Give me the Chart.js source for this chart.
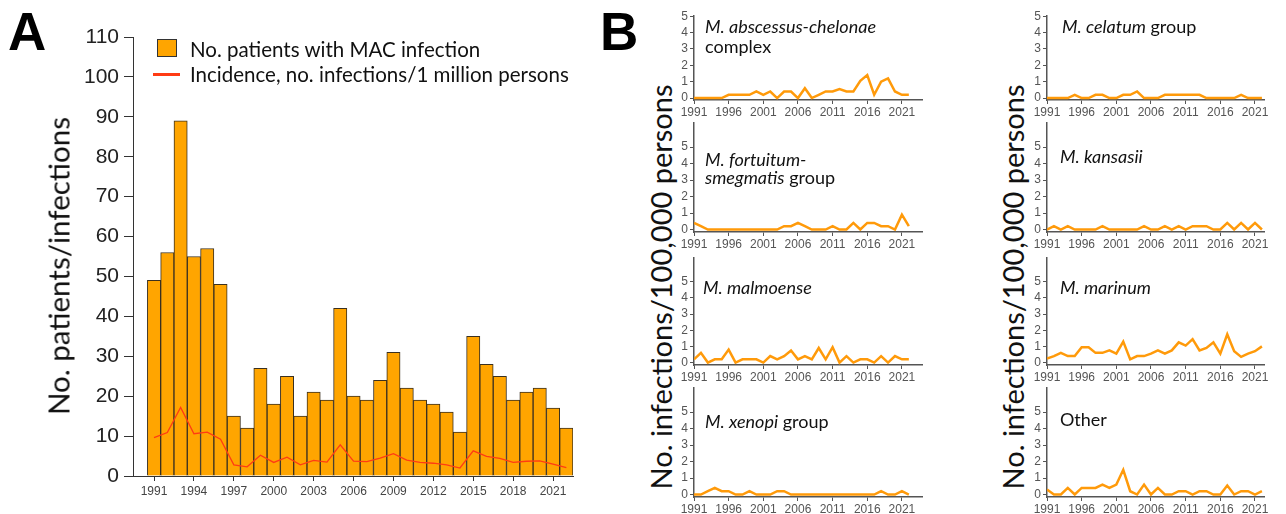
<!DOCTYPE html>
<html>
<head>
<meta charset="utf-8">
<script src="https://cdn.jsdelivr.net/npm/chart.js@4.4.1/dist/chart.umd.min.js"></script>
<style>
  body { margin: 0; background: #fff; width: 1286px; height: 514px; overflow: hidden; position: relative; font-family: Lato, sans-serif; color: #111; }
  canvas { position: absolute; }
  .panel { position: absolute; font: bold 53px "Liberation Sans", Arial, sans-serif; line-height: 53px; color: #000; }
  .lbl { position: absolute; font-size: 18px; line-height: 20px; white-space: nowrap; }
  .leg { position: absolute; font-size: 20.5px; line-height: 24px; white-space: nowrap; }
  .ytitle { position: absolute; font-size: 29px; white-space: nowrap; transform: translate(-50%, -50%) rotate(-90deg); }
</style>
</head>
<body>
<div class="panel" style="left:8px; top:5px;">A</div>
<div class="panel" style="left:600px; top:5px;">B</div>

<canvas id="chartA" width="600" height="514" style="left:0; top:0;"></canvas>
<div class="ytitle" style="left:58px; top:266px; font-size:29.5px;">No. patients/infections</div>
<div style="position:absolute; left:157px; top:39px; width:20px; height:18px; box-sizing:border-box; background:#ffa500; border:1px solid #333;"></div>
<div class="leg" style="left:190px; top:37px;">No. patients with MAC infection</div>
<div style="position:absolute; left:153px; top:73px; width:27px; height:3px; background:#ff3b14;"></div>
<div class="leg" style="left:190px; top:62px;">Incidence, no. infections/1 million persons</div>

<div class="ytitle" style="left:660px; top:287px;">No. infections/100,000 persons</div>
<div class="ytitle" style="left:1012px; top:287px;">No. infections/100,000 persons</div>

<canvas id="abscessus" width="266" height="115" style="left:670px; top:7px;"></canvas>
<canvas id="fortuitum" width="266" height="140" style="left:670px; top:114px;"></canvas>
<canvas id="malmoense" width="266" height="138" style="left:670px; top:249px;"></canvas>
<canvas id="xenopi" width="266" height="140" style="left:670px; top:379px;"></canvas>
<canvas id="celatum" width="255" height="115" style="left:1023px; top:7px;"></canvas>
<canvas id="kansasii" width="255" height="140" style="left:1023px; top:114px;"></canvas>
<canvas id="marinum" width="255" height="138" style="left:1023px; top:249px;"></canvas>
<canvas id="other" width="255" height="140" style="left:1023px; top:379px;"></canvas>

<div class="lbl" style="left:705px; top:16px;"><i>M. abscessus-chelonae</i><br>complex</div>
<div class="lbl" style="left:705px; top:150px; line-height:18px;"><i>M. fortuitum-</i><br><i>smegmatis</i> group</div>
<div class="lbl" style="left:703px; top:277px;"><i>M. malmoense</i></div>
<div class="lbl" style="left:705px; top:411px;"><i>M. xenopi</i> group</div>
<div class="lbl" style="left:1062px; top:16px;"><i>M. celatum</i> group</div>
<div class="lbl" style="left:1060px; top:146px;"><i>M. kansasii</i></div>
<div class="lbl" style="left:1060px; top:277px;"><i>M. marinum</i></div>
<div class="lbl" style="left:1060px; top:409px;">Other</div>

<script>
const years = [1991, 1992, 1993, 1994, 1995, 1996, 1997, 1998, 1999, 2000, 2001, 2002, 2003, 2004, 2005, 2006,
               2007, 2008, 2009, 2010, 2011, 2012, 2013, 2014, 2015, 2016, 2017, 2018, 2019, 2020, 2021, 2022];

// panel A
const macPatients = [49, 56, 89, 55, 57, 48, 15, 12, 27, 18, 25, 15, 21, 19, 42, 20,
                     19, 24, 31, 22, 19, 18, 16, 11, 35, 28, 25, 19, 21, 22, 17, 12];
const macIncidence = [9.6, 10.9, 17.2, 10.6, 11.0, 9.2, 2.8, 2.3, 5.2, 3.4, 4.7, 2.8, 3.9, 3.5, 7.8, 3.7,
                      3.6, 4.5, 5.6, 4.0, 3.4, 3.2, 2.8, 2.0, 6.3, 4.9, 4.4, 3.4, 3.7, 3.8, 3.0, 2.1];
const xTicksA = [1991, 1994, 1997, 2000, 2003, 2006, 2009, 2012, 2015, 2018, 2021];

// panel B, infections per 100,000 persons
const abscessus = [0, 0, 0, 0, 0, 0.2, 0.2, 0.2, 0.2, 0.4, 0.2, 0.4, 0, 0.4, 0.4, 0,
                   0.6, 0, 0.2, 0.4, 0.4, 0.55, 0.4, 0.4, 1.05, 1.4, 0.2, 1.0, 1.2, 0.4, 0.2, 0.2];
const fortuitum = [0.4, 0.2, 0, 0, 0, 0, 0, 0, 0, 0, 0, 0, 0, 0.2, 0.2, 0.4,
                   0.2, 0, 0, 0, 0.2, 0, 0, 0.4, 0, 0.4, 0.4, 0.2, 0.2, 0, 0.9, 0.2];
const malmoense = [0.2, 0.6, 0, 0.2, 0.2, 0.8, 0, 0.2, 0.2, 0.2, 0, 0.4, 0.2, 0.4, 0.75, 0.2,
                   0.4, 0.2, 0.9, 0.2, 0.95, 0, 0.4, 0, 0.2, 0.2, 0, 0.4, 0, 0.4, 0.2, 0.2];
const xenopi = [0, 0, 0.2, 0.4, 0.2, 0.2, 0, 0, 0.2, 0, 0, 0, 0.2, 0.2, 0, 0,
                0, 0, 0, 0, 0, 0, 0, 0, 0, 0, 0, 0.2, 0, 0, 0.2, 0];
const celatum = [0, 0, 0, 0, 0.2, 0, 0, 0.2, 0.2, 0, 0, 0.2, 0.2, 0.4, 0, 0,
                 0, 0.2, 0.2, 0.2, 0.2, 0.2, 0.2, 0, 0, 0, 0, 0, 0.2, 0, 0, 0];
const kansasii = [0, 0.2, 0, 0.2, 0, 0, 0, 0, 0.2, 0, 0, 0, 0, 0, 0.2, 0,
                  0, 0.2, 0, 0.2, 0, 0.2, 0.2, 0.2, 0, 0, 0.4, 0, 0.4, 0, 0.4, 0];
const marinum = [0.25, 0.4, 0.6, 0.4, 0.4, 0.95, 0.95, 0.6, 0.6, 0.75, 0.55, 1.3, 0.2, 0.4, 0.4, 0.55,
                 0.75, 0.55, 0.75, 1.25, 1.05, 1.45, 0.75, 0.9, 1.25, 0.55, 1.75, 0.7, 0.35, 0.55, 0.7, 1.0];
const other = [0.3, 0, 0, 0.4, 0, 0.4, 0.4, 0.4, 0.6, 0.4, 0.6, 1.5, 0.2, 0, 0.6, 0,
               0.4, 0, 0, 0.2, 0.2, 0, 0.2, 0.2, 0, 0, 0.55, 0, 0.2, 0.2, 0, 0.2];
const xTicksB = [1991, 1996, 2001, 2006, 2011, 2016, 2021];
const yTicksB = [0, 1, 2, 3, 4, 5];

Chart.defaults.font.family = '"Liberation Sans", Arial, sans-serif';

const pairs = (vals) => years.map((yr, i) => ({ x: yr, y: vals[i] }));
const fixedTicks = (values) => (axis) => { axis.ticks = values.map(v => ({ value: v })); };

new Chart(document.getElementById('chartA'), {
    type: 'bar',
    data: {
        datasets: [{
            type: 'line',
            label: 'Incidence, no. infections/1 million persons',
            data: pairs(macIncidence),
            borderColor: '#ff3b14',
            borderWidth: 1.3,
            pointRadius: 0,
            order: 0
        }, {
            type: 'bar',
            label: 'No. patients with MAC infection',
            data: pairs(macPatients),
            backgroundColor: '#ffa500',
            borderColor: '#3a3020',
            borderWidth: 1,
            barPercentage: 1,
            categoryPercentage: 1,
            order: 1
        }]
    },
    options: {
        responsive: false,
        animation: false,
        layout: { padding: { left: 0, top: 37, right: 27, bottom: 0 } },
        plugins: { legend: { display: false }, tooltip: { enabled: false } },
        scales: {
            x: {
                type: 'linear',
                offset: false,
                min: 1989.42,
                max: 2022.5,
                afterBuildTicks: fixedTicks(xTicksA),
                afterFit: (s) => { s.height = 38; },
                grid: { offset: false, drawOnChartArea: false, tickLength: 5, color: '#333' },
                border: { color: '#333' },
                ticks: { font: { size: 12 }, color: '#444', padding: 3, maxRotation: 0, autoSkip: false, callback: (v) => String(v) }
            },
            y: {
                min: 0,
                max: 110,
                afterFit: (s) => { s.width = 133; },
                grid: { drawOnChartArea: false, tickLength: 9, color: '#333' },
                border: { color: '#333' },
                ticks: { stepSize: 10, autoSkip: false, font: { size: 21 }, color: '#222', padding: 5 }
            }
        }
    }
});

function smallChart(id, series, xMax, yMin, yMax) {
    new Chart(document.getElementById(id), {
        type: 'line',
        data: {
            datasets: [{
                data: pairs(series),
                borderColor: '#ff9a0a',
                borderWidth: 2.5,
                pointRadius: 0,
                tension: 0
            }]
        },
        options: {
            responsive: false,
            animation: false,
            layout: { padding: { left: 0, top: 8, right: 14, bottom: 0 } },
            plugins: { legend: { display: false }, tooltip: { enabled: false } },
            scales: {
                x: {
                    type: 'linear',
                    min: 1991,
                    max: xMax,
                    afterBuildTicks: fixedTicks(xTicksB),
                    afterFit: (s) => { s.height = 22; },
                    grid: { drawOnChartArea: false, tickLength: 4, color: '#555' },
                    border: { color: '#555', width: 1.5 },
                    ticks: { font: { size: 12 }, color: '#555', padding: 1, maxRotation: 0, autoSkip: false, callback: (v) => String(v) }
                },
                y: {
                    min: yMin,
                    max: yMax,
                    afterBuildTicks: fixedTicks(yTicksB),
                    afterFit: (s) => { s.width = 24; },
                    grid: { drawOnChartArea: false, tickLength: 4, color: '#555' },
                    border: { color: '#555', width: 1.5 },
                    ticks: { autoSkip: false, font: { size: 12 }, color: '#555', padding: 2 }
                }
            }
        }
    });
}

smallChart('abscessus', abscessus, 2023.9, -0.12, 5);
smallChart('fortuitum', fortuitum, 2023.9, -0.15, 6.45);
smallChart('malmoense', malmoense, 2023.9, -0.15, 6.45);
smallChart('xenopi', xenopi, 2023.9, -0.15, 6.45);
smallChart('celatum', celatum, 2022.3, -0.12, 5);
smallChart('kansasii', kansasii, 2022.3, -0.15, 6.45);
smallChart('marinum', marinum, 2022.3, -0.15, 6.45);
smallChart('other', other, 2022.3, -0.15, 6.45);
</script>
</body>
</html>
